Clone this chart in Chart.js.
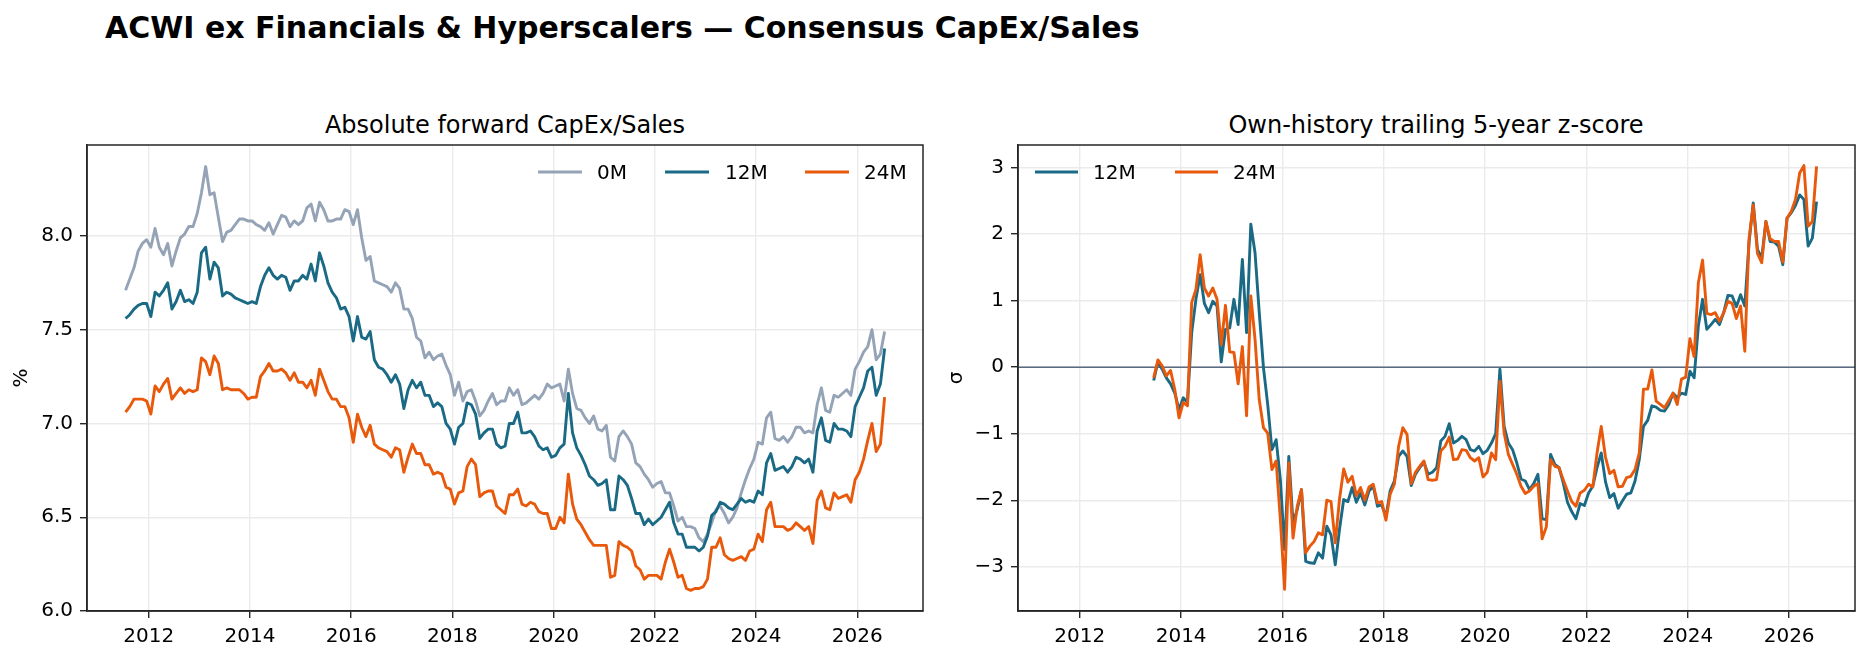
<!DOCTYPE html>
<html><head><meta charset="utf-8">
<script src="https://cdn.jsdelivr.net/npm/chart.js@4.4.1/dist/chart.umd.min.js"></script>
<style>
html,body{margin:0;padding:0;background:#fff;}
#page{position:relative;width:1869px;height:659px;overflow:hidden;font-family:"DejaVu Sans",sans-serif;background:#fff;}
.t{position:absolute;white-space:nowrap;color:#000;}
#main{left:105px;top:9.6px;font-size:30px;font-weight:bold;line-height:35px;}
.sub{font-size:24px;line-height:28px;top:110.7px;transform:translateX(-50%);}
.wrap{position:absolute;top:0;height:659px;}
canvas{display:block;}
</style></head>
<body><div id="page">
<div id="main" class="t">ACWI ex Financials &amp; Hyperscalers — Consensus CapEx/Sales</div>
<div class="t sub" style="left:505px">Absolute forward CapEx/Sales</div>
<div class="t sub" style="left:1436px">Own-history trailing 5-year z-score</div>
<div class="wrap" style="left:0;width:935px"><canvas id="c1" width="935" height="659"></canvas></div>
<div class="wrap" style="left:935px;width:934px"><canvas id="c2" width="934" height="659"></canvas></div>
</div>
<script>
// ---------- data (monthly, first month below) ----------
const levelStart = [2011, 7];   // Jul 2011
const zStart = [2013, 6];       // Jun 2013
const yearTicks = [2012, 2014, 2016, 2018, 2020, 2022, 2024, 2026];
const levelTicks = [6.0, 6.5, 7.0, 7.5, 8.0];
const zTicks = [-3, -2, -1, 0, 1, 2, 3];
const seriesNames = ['0M', '12M', '24M'];

const capex0M = [7.71,7.77,7.83,7.92,7.96,7.98,7.94,8.04,7.94,7.90,7.96,7.84,7.92,7.99,8.01,8.05,8.05,8.12,8.23,8.37,
8.22,8.23,8.10,7.97,8.02,8.03,8.06,8.09,8.09,8.08,8.08,8.06,8.05,8.03,8.07,8.01,8.06,8.11,8.10,8.05,
8.08,8.06,8.08,8.15,8.17,8.08,8.18,8.14,8.08,8.08,8.09,8.09,8.14,8.13,8.06,8.14,7.99,7.87,7.89,7.76,
7.75,7.74,7.73,7.70,7.75,7.72,7.61,7.61,7.56,7.46,7.44,7.35,7.38,7.34,7.36,7.37,7.31,7.26,7.15,7.22,
7.12,7.17,7.18,7.12,7.04,7.07,7.12,7.16,7.10,7.12,7.12,7.19,7.15,7.18,7.10,7.11,7.13,7.15,7.13,7.16,
7.21,7.19,7.20,7.21,7.12,7.29,7.16,7.08,7.07,7.03,7.00,7.04,6.97,6.96,6.99,6.82,6.80,6.93,6.96,6.93,
6.89,6.79,6.77,6.73,6.70,6.66,6.68,6.69,6.63,6.63,6.56,6.48,6.50,6.45,6.45,6.44,6.39,6.37,6.41,6.47,
6.54,6.56,6.52,6.47,6.50,6.55,6.63,6.70,6.76,6.81,6.90,6.89,7.03,7.06,6.92,6.91,6.93,6.90,6.93,6.98,
6.98,6.95,6.96,6.95,7.10,7.19,7.07,7.06,7.15,7.14,7.16,7.18,7.15,7.29,7.33,7.38,7.41,7.50,7.34,7.37,7.49];

const capex12M = [7.56,7.58,7.61,7.63,7.64,7.64,7.57,7.70,7.68,7.71,7.75,7.61,7.65,7.71,7.65,7.66,7.64,7.70,7.91,7.94,
7.77,7.86,7.83,7.68,7.70,7.69,7.67,7.66,7.65,7.64,7.65,7.64,7.73,7.79,7.83,7.79,7.77,7.79,7.78,7.71,
7.76,7.76,7.79,7.77,7.85,7.76,7.91,7.84,7.75,7.70,7.67,7.61,7.62,7.57,7.44,7.57,7.46,7.45,7.49,7.34,
7.30,7.29,7.26,7.22,7.26,7.21,7.08,7.18,7.23,7.19,7.22,7.15,7.15,7.09,7.11,7.09,7.00,6.97,6.89,6.98,
7.00,7.11,7.10,7.05,6.92,6.95,6.97,6.97,6.89,6.87,6.88,7.00,7.00,7.06,6.95,6.95,6.96,6.93,6.88,6.86,
6.87,6.82,6.83,6.87,6.89,7.16,6.95,6.87,6.83,6.78,6.72,6.70,6.67,6.68,6.70,6.54,6.54,6.72,6.70,6.67,
6.60,6.52,6.52,6.46,6.49,6.46,6.48,6.50,6.54,6.58,6.47,6.41,6.41,6.34,6.34,6.34,6.32,6.34,6.40,6.51,
6.53,6.58,6.57,6.55,6.54,6.57,6.60,6.58,6.59,6.58,6.64,6.62,6.79,6.84,6.75,6.76,6.77,6.74,6.77,6.82,
6.81,6.79,6.81,6.74,6.96,7.03,6.91,6.90,7.00,6.97,6.97,6.96,6.93,7.09,7.14,7.19,7.28,7.30,7.15,7.21,7.40];

const capex24M = [7.06,7.09,7.13,7.13,7.13,7.12,7.05,7.20,7.17,7.21,7.24,7.13,7.16,7.19,7.16,7.18,7.17,7.18,7.35,7.33,
7.26,7.36,7.32,7.18,7.19,7.18,7.18,7.18,7.16,7.13,7.14,7.14,7.25,7.28,7.32,7.28,7.28,7.29,7.27,7.23,
7.27,7.22,7.22,7.19,7.23,7.15,7.29,7.23,7.17,7.13,7.13,7.09,7.09,7.03,6.90,7.05,6.98,6.93,6.99,6.89,
6.87,6.86,6.85,6.82,6.87,6.86,6.74,6.82,6.89,6.84,6.84,6.78,6.78,6.73,6.74,6.73,6.66,6.65,6.57,6.63,
6.64,6.77,6.81,6.78,6.61,6.63,6.64,6.64,6.56,6.54,6.52,6.62,6.62,6.65,6.57,6.56,6.58,6.57,6.53,6.52,
6.52,6.44,6.44,6.50,6.47,6.73,6.57,6.49,6.46,6.42,6.38,6.35,6.35,6.35,6.35,6.18,6.19,6.37,6.35,6.34,
6.32,6.24,6.22,6.17,6.19,6.19,6.19,6.17,6.26,6.33,6.26,6.18,6.19,6.12,6.11,6.12,6.12,6.13,6.17,6.34,
6.34,6.39,6.30,6.28,6.27,6.28,6.29,6.27,6.32,6.33,6.41,6.37,6.54,6.58,6.45,6.45,6.45,6.43,6.44,6.47,
6.45,6.43,6.45,6.36,6.59,6.64,6.55,6.54,6.63,6.60,6.61,6.62,6.58,6.70,6.74,6.81,6.91,7.00,6.85,6.89,7.14];

const z12M = [-0.20,0.08,-0.03,-0.16,-0.25,-0.39,-0.64,-0.46,-0.53,0.52,1.02,1.39,0.96,0.82,0.99,0.92,0.08,0.57,0.59,1.02,
0.64,1.62,0.52,2.15,1.72,0.82,-0.01,-0.56,-1.24,-1.09,-1.69,-2.74,-1.34,-2.34,-2.14,-1.84,-2.92,-2.94,-2.95,-2.79,
-2.87,-2.39,-2.52,-2.97,-2.44,-1.99,-2.02,-1.81,-2.03,-1.89,-2.07,-1.86,-1.79,-2.09,-2.07,-2.25,-1.86,-1.71,-1.34,-1.26,
-1.34,-1.78,-1.61,-1.51,-1.43,-1.61,-1.58,-1.51,-1.11,-1.04,-0.85,-1.14,-1.10,-1.04,-1.09,-1.24,-1.26,-1.19,-1.30,-1.25,
-1.14,-1.00,-0.03,-0.89,-1.14,-1.24,-1.44,-1.68,-1.71,-1.84,-1.75,-1.61,-2.28,-2.29,-1.31,-1.46,-1.51,-1.74,-2.03,-2.17,
-2.28,-2.05,-2.08,-1.89,-1.79,-1.51,-1.29,-1.72,-1.96,-1.90,-2.12,-2.01,-1.91,-1.89,-1.71,-1.39,-0.89,-0.80,-0.58,-0.60,
-0.65,-0.66,-0.56,-0.39,-0.46,-0.39,-0.41,-0.06,-0.16,0.62,1.02,0.57,0.64,0.72,0.64,0.82,1.08,1.07,0.91,1.09,
0.92,1.87,2.47,1.77,1.64,2.19,1.89,1.88,1.82,1.54,2.24,2.32,2.43,2.59,2.52,1.82,1.94,2.49];

const z24M = [-0.16,0.11,0.02,-0.13,-0.05,-0.34,-0.76,-0.53,-0.58,0.97,1.17,1.69,1.19,1.07,1.19,1.02,0.34,0.93,0.23,0.22,
-0.25,0.31,-0.73,1.07,0.42,-0.49,-0.91,-0.99,-1.54,-1.41,-2.29,-3.34,-1.44,-2.57,-2.09,-1.84,-2.79,-2.69,-2.62,-2.49,
-2.52,-2.00,-2.02,-2.64,-1.99,-1.53,-1.73,-1.64,-1.93,-1.81,-2.00,-1.80,-1.76,-2.04,-2.02,-2.30,-1.91,-1.76,-1.19,-0.91,
-1.01,-1.75,-1.58,-1.49,-1.41,-1.69,-1.70,-1.69,-1.26,-1.19,-1.05,-1.39,-1.38,-1.24,-1.25,-1.36,-1.41,-1.36,-1.65,-1.58,
-1.29,-1.39,-0.21,-0.99,-1.31,-1.46,-1.61,-1.79,-1.90,-1.86,-1.79,-1.75,-2.58,-2.40,-1.39,-1.49,-1.51,-1.69,-1.86,-2.02,
-2.09,-1.89,-1.85,-1.76,-1.80,-1.29,-0.89,-1.35,-1.60,-1.55,-1.80,-1.79,-1.66,-1.64,-1.54,-1.29,-0.33,-0.33,-0.04,-0.51,
-0.56,-0.61,-0.50,-0.39,-0.56,-0.18,-0.15,0.43,0.16,1.27,1.61,0.81,0.79,0.82,0.69,0.82,0.99,0.96,0.73,0.92,
0.24,1.93,2.44,1.71,1.57,2.19,1.93,1.89,1.89,1.58,2.24,2.34,2.52,2.92,3.03,2.12,2.19,3.02];

// ---------- styling ----------
const C_0M = '#95a3b7', C_12M = '#1a6a85', C_24M = '#e8590c';
const SPINE = '#262626', GRID = '#ebebeb', ZERO = '#5b6a83';
const FS = 20;
Chart.defaults.font.family = "'DejaVu Sans', sans-serif";
Chart.defaults.color = '#000';

function monthX(start, k) { return start[0] + (start[1] - 1 + k + 0.5) / 12; }
function toXY(start, arr) { return arr.map((v, k) => ({ x: monthX(start, k), y: v })); }

const framePlugin = {
  id: 'frame',
  afterDatasetsDraw(chart) {
    const { ctx, chartArea: a } = chart;
    ctx.save();
    ctx.strokeStyle = SPINE; ctx.lineWidth = 1.5;
    ctx.strokeRect(a.left, a.top, a.right - a.left, a.bottom - a.top);
    ctx.restore();
  }
};
const zeroPlugin = {
  id: 'zeroLine',
  beforeDatasetsDraw(chart, args, opts) {
    if (!opts.show) return;
    const { ctx, chartArea: a, scales } = chart;
    const y = scales.y.getPixelForValue(0);
    ctx.save();
    ctx.strokeStyle = ZERO; ctx.lineWidth = 1.6;
    ctx.beginPath(); ctx.moveTo(a.left, y); ctx.lineTo(a.right, y); ctx.stroke();
    ctx.restore();
  }
};
const legendPlugin = {
  id: 'lineLegend',
  afterDraw(chart, args, opts) {
    const { ctx } = chart;
    ctx.save();
    ctx.font = FS + "px 'DejaVu Sans'";
    ctx.textBaseline = 'alphabetic';
    ctx.textAlign = 'left';
    opts.items.forEach(it => {
      const ds = chart.data.datasets.find(d => d.label === it.label);
      ctx.strokeStyle = ds.borderColor; ctx.lineWidth = 2.9; ctx.lineCap = 'butt';
      ctx.beginPath(); ctx.moveTo(it.x0, opts.y); ctx.lineTo(it.x1, opts.y); ctx.stroke();
      ctx.fillStyle = '#000';
      ctx.fillText(it.label, it.tx, opts.y + 7.3);
    });
    ctx.restore();
  }
};

function lineDs(label, data, color, order) {
  return { label, data, borderColor: color, backgroundColor: color, borderWidth: 2.9,
           pointRadius: 0, pointHoverRadius: 0, tension: 0, fill: false, order,
           borderJoinStyle: 'round', borderCapStyle: 'butt' };
}
function xScale() {
  return {
    type: 'linear', min: 2010.78, max: 2027.3,
    afterBuildTicks: s => { s.ticks = yearTicks.map(v => ({ value: v })); },
    afterFit: s => { s.height = 48; },
    grid: { color: GRID, lineWidth: 1.4, tickColor: SPINE, tickLength: 7, tickWidth: 1.4 },
    border: { color: SPINE, width: 1.5 },
    ticks: { font: { size: FS }, color: '#000', padding: 7, maxRotation: 0, autoSkip: false,
             callback: v => String(v) }
  };
}
function yScale(min, max, ticks, fmt, width, title) {
  return {
    type: 'linear', min, max,
    afterBuildTicks: s => { s.ticks = ticks.map(v => ({ value: v })); },
    afterFit: s => { s.width = width; },
    grid: { color: GRID, lineWidth: 1.4, tickColor: SPINE, tickLength: 7, tickWidth: 1.4 },
    border: { color: SPINE, width: 1.5 },
    ticks: { font: { size: FS }, color: '#000', padding: 7, autoSkip: false, callback: fmt },
    title: { display: true, text: title, font: { size: FS }, color: '#000', padding: { top: 9.5, bottom: 0 } }
  };
}
const common = {
  responsive: false, animation: false, events: [],
  plugins: { legend: { display: false }, tooltip: { enabled: false }, title: { display: false } }
};

new Chart(document.getElementById('c1'), {
  type: 'line',
  data: { datasets: [
    lineDs(seriesNames[0], toXY(levelStart, capex0M), C_0M, 3),
    lineDs(seriesNames[1], toXY(levelStart, capex12M), C_12M, 2),
    lineDs(seriesNames[2], toXY(levelStart, capex24M), C_24M, 1)
  ]},
  options: Object.assign({}, common, {
    layout: { padding: { top: 145, left: 0, right: 12, bottom: 0 } },
    scales: { x: xScale(), y: yScale(6.0, 8.485, levelTicks, v => v.toFixed(1), 87, '%') },
    plugins: Object.assign({}, common.plugins, {
      zeroLine: { show: false },
      lineLegend: { y: 172, items: [
        { label: '0M', x0: 538, x1: 582, tx: 597 },
        { label: '12M', x0: 665, x1: 709, tx: 725 },
        { label: '24M', x0: 805, x1: 849, tx: 864 } ] }
    })
  }),
  plugins: [framePlugin, zeroPlugin, legendPlugin]
});

new Chart(document.getElementById('c2'), {
  type: 'line',
  data: { datasets: [
    lineDs(seriesNames[1], toXY(zStart, z12M), C_12M, 2),
    lineDs(seriesNames[2], toXY(zStart, z24M), C_24M, 1)
  ]},
  options: Object.assign({}, common, {
    layout: { padding: { top: 145, left: 0, right: 14, bottom: 0 } },
    scales: { x: xScale(), y: yScale(-3.665, 3.34, zTicks, v => (v < 0 ? '\u2212' + Math.abs(v) : String(v)), 83, 'σ') },
    plugins: Object.assign({}, common.plugins, {
      zeroLine: { show: true },
      lineLegend: { y: 172, items: [
        { label: '12M', x0: 100, x1: 143, tx: 158 },
        { label: '24M', x0: 240, x1: 283, tx: 298 } ] }
    })
  }),
  plugins: [framePlugin, zeroPlugin, legendPlugin]
});
</script>
</body></html>
